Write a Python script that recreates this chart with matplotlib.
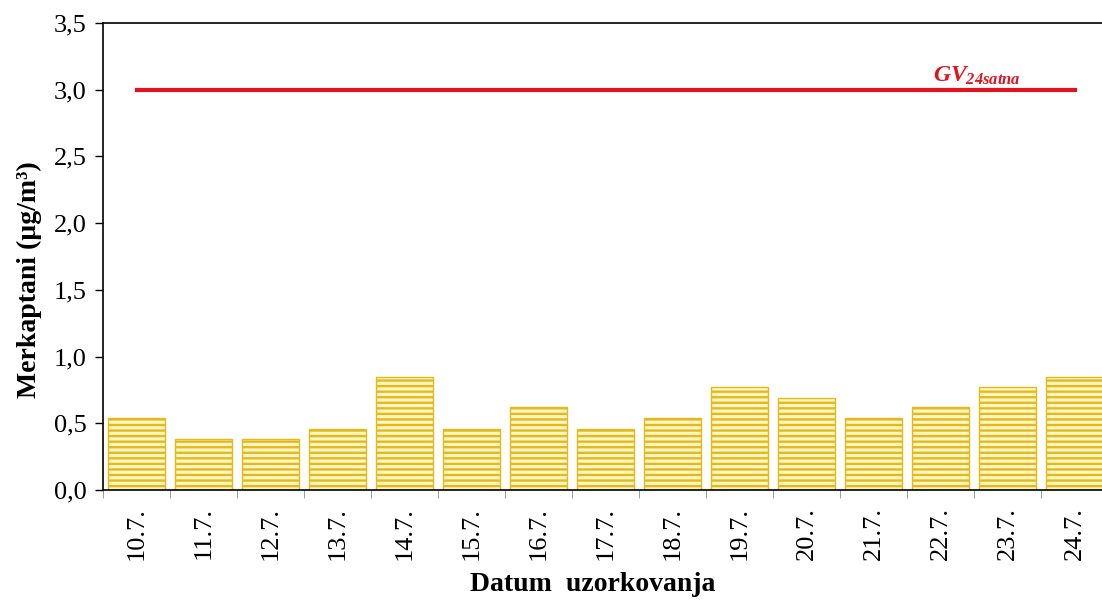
import numpy as np
import matplotlib.pyplot as plt

# datumi i izmjerene vrijednosti
dates = ['10.7.', '11.7.', '12.7.', '13.7.', '14.7.', '15.7.', '16.7.', '17.7.',
         '18.7.', '19.7.', '20.7.', '21.7.', '22.7.', '23.7.', '24.7.']
values = [0.54, 0.38, 0.38, 0.46, 0.85, 0.46, 0.62, 0.46,
          0.54, 0.77, 0.69, 0.54, 0.62, 0.77, 0.85]
limit_value = 3.0
yticks = [0.0, 0.5, 1.0, 1.5, 2.0, 2.5, 3.0, 3.5]

plt.rcParams['font.family'] = ['Liberation Serif', 'DejaVu Serif']
plt.rcParams['mathtext.fontset'] = 'custom'
plt.rcParams['mathtext.it'] = 'Liberation Serif:italic:bold'
plt.rcParams['mathtext.rm'] = 'Liberation Serif:italic:bold'
plt.rcParams['hatch.color'] = '#f8d41c'
plt.rcParams['hatch.linewidth'] = 1.7

fig = plt.figure(figsize=(11.02, 6.01), dpi=100)
ax = fig.add_axes([103 / 1102, 1 - 490 / 601, 1005 / 1102, 467 / 601])

x = np.arange(len(dates))
ax.bar(x, values, width=0.86, color='#fff6c4', edgecolor='#e2ba1e',
       hatch='---', linewidth=1.0)

ax.plot([x[0], x[-1]], [limit_value, limit_value], color='#e0141e', lw=3)
ax.text(12.55, limit_value + 0.02, r'$GV_{\mathit{24satna}}$',
        color='#e0141e', fontsize=17, ha='center', va='bottom')

ax.set_xlim(-0.5, len(dates) - 0.5)
ax.set_ylim(0, 3.5)
ax.set_yticks(yticks)
ax.set_yticklabels([f'{v:.1f}'.replace('.', ',') for v in yticks], fontsize=19)
ax.set_xticks(x)
ax.set_xticklabels(dates, rotation=90, fontsize=19)
ax.tick_params(axis='x', length=0, pad=12)
ax.set_xticks(np.arange(len(dates) + 1) - 0.5, minor=True)
ax.tick_params(axis='x', which='minor', length=6, color='#8090a0', direction='out')
ax.tick_params(axis='y', length=6, direction='out', width=1, pad=6)

ax.spines['right'].set_visible(False)
for s in ['left', 'bottom', 'top']:
    ax.spines[s].set_linewidth(1.2)

ax.set_xlabel('Datum  uzorkovanja', fontsize=20, fontweight='bold')
ax.xaxis.set_label_coords(0.487, -0.176)
ax.set_ylabel('Merkaptani (µg/m³)', fontsize=20, fontweight='bold')
ax.yaxis.set_label_coords(-0.061, 0.45)

fig.savefig('out.png', dpi=100)
